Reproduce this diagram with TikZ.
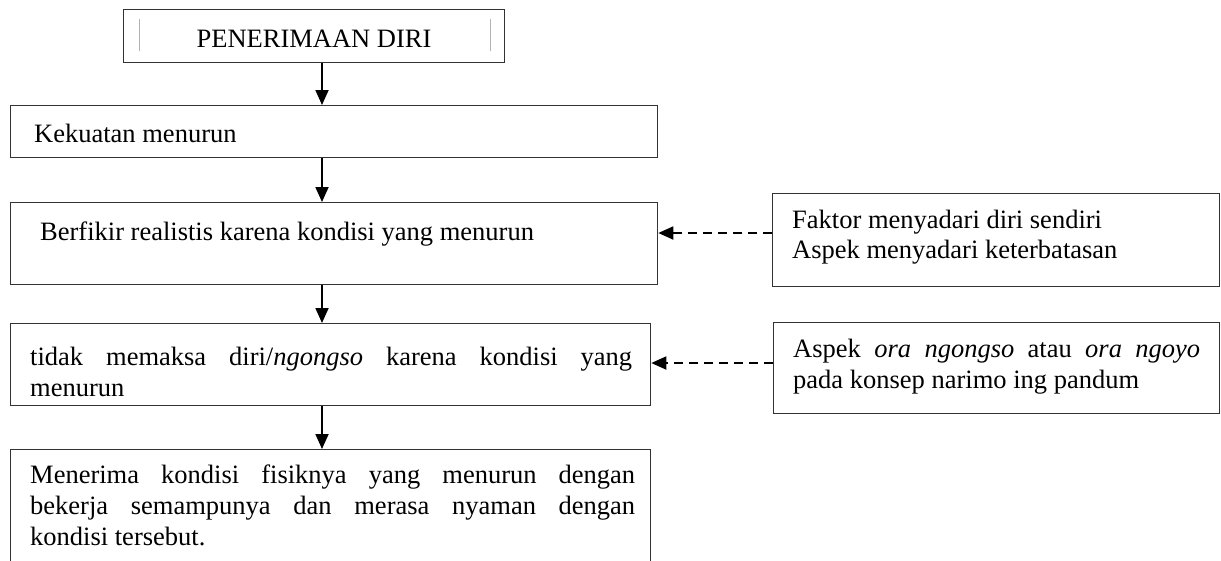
\documentclass[tikz,border=0pt]{standalone}
\usepackage{fontspec}
\setmainfont{Liberation Serif}
\usetikzlibrary{arrows.meta,calc}
\begin{document}
\begin{tikzpicture}[x=1pt,y=-1pt,
  box/.style={draw=black!80, line width=1.3pt, rectangle, inner sep=0pt, anchor=north west},
  txt/.style={inner sep=0pt, anchor=base west, font=\fontsize{26.5}{31}\selectfont},
  flow/.style={line width=1.8pt, -{Triangle[length=15pt,width=13pt]}},
  dflow/.style={line width=1.8pt, dash pattern=on 9pt off 6pt, -{Triangle[length=15pt,width=13pt]}},
  inbar/.style={draw=black!30, line width=0.8pt}]
\clip (0,0) rectangle (1221,560);
% top box
\node[box, minimum width=381pt, minimum height=53pt] (top) at (123,9) {};
\node[txt, anchor=base] (topt) at (314,47) {PENERIMAAN DIRI};
\draw[inbar] ([xshift=16pt,yshift=-10pt]top.north west) -- ([xshift=16pt,yshift=12pt]top.south west);
\draw[inbar] ([xshift=-15pt,yshift=-10pt]top.north east) -- ([xshift=-15pt,yshift=12pt]top.south east);
% main column
\node[box, minimum width=647pt, minimum height=52pt] (b2) at (10,105) {};
\node[txt] (b2t) at (34,142) {Kekuatan menurun};
\node[box, minimum width=647pt, minimum height=82pt] (b3) at (10,202) {};
\node[txt] (b3t) at (40,240) {Berfikir realistis karena kondisi yang menurun};
\node[box, minimum width=640pt, minimum height=82pt] (b4) at (10,323) {};
\node[txt] (b4a) at (30,365) {\makebox[602pt][s]{tidak memaksa diri/\textit{ngongso} karena kondisi yang}};
\node[txt] (b4b) at (30,396) {menurun};
\node[box, minimum width=640pt, minimum height=116pt] (b5) at (10,449) {};
\node[txt] (b5a) at (30,483) {\makebox[605pt][s]{Menerima kondisi fisiknya yang menurun dengan}};
\node[txt] (b5b) at (30,514) {\makebox[605pt][s]{bekerja semampunya dan merasa nyaman dengan}};
\node[txt] (b5c) at (30,545) {kondisi tersebut.};
% right boxes
\node[box, minimum width=447pt, minimum height=93pt] (r1) at (772,193) {};
\node[txt] (r1a) at (792,228) {Faktor menyadari diri sendiri};
\node[txt] (r1b) at (792,258) {Aspek menyadari keterbatasan};
\node[box, minimum width=446pt, minimum height=91pt] (r2) at (773,322) {};
\node[txt] (r2a) at (793,357) {\makebox[407pt][s]{Aspek \textit{ora ngongso} atau \textit{ora ngoyo}}};
\node[txt] (r2b) at (793,388) {pada konsep narimo ing pandum};
% vertical arrows
\coordinate (ax) at (322,0);
\draw[flow] (ax |- top.south) -- (ax |- b2.north);
\draw[flow] (ax |- b2.south) -- (ax |- b3.north);
\draw[flow] (ax |- b3.south) -- (ax |- b4.north);
\draw[flow] (ax |- b4.south) -- (ax |- b5.north);
% dashed arrows
\coordinate (d1) at ([yshift=-40pt]r1.north west);
\coordinate (d2) at ([yshift=-41pt]r2.north west);
\draw[dflow] (d1) -- (d1 -| b3.east);
\draw[dflow] (d2) -- (d2 -| b4.east);
\end{tikzpicture}
\end{document}
